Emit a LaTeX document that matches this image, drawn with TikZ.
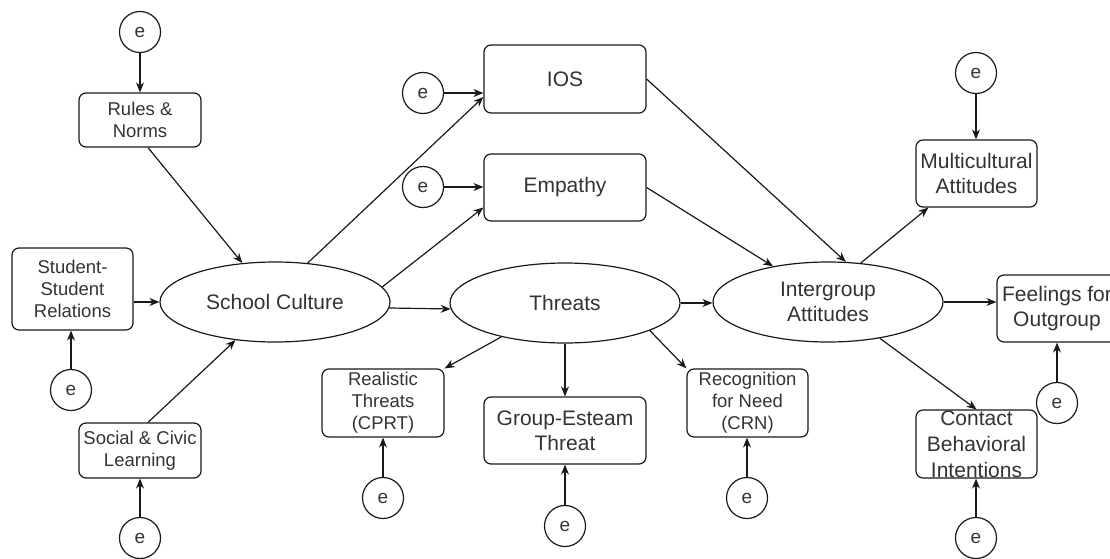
\documentclass[tikz,border=0pt]{standalone}
\usepackage{fontspec}
\setmainfont{Liberation Sans}
\usetikzlibrary{shapes.geometric,arrows.meta}
\begin{document}
\begin{tikzpicture}[x=1pt,y=-1pt,
  every node/.style={text=black!80, align=center, inner sep=0pt},
  smalltxt/.style={font=\fontsize{18.5}{22}\selectfont},
  bigtxt/.style={font=\fontsize{21}{25}\selectfont},
  box/.style={draw=black!90, rounded corners=7pt, line width=1.2pt},
  latent/.style={draw=black!90, ellipse, line width=1.2pt, minimum width=230pt,
                 minimum height=80pt, bigtxt},
  err/.style={draw=black!90, circle, line width=1.2pt, minimum size=41pt,
              font=\fontsize{19}{19}\selectfont},
  path/.style={draw=black!90, line width=1.2pt, -{Stealth[length=10pt,width=8pt]}}
]
\useasboundingbox (0,0) rectangle (1110,559);
\clip (0,0) rectangle (1110,559);

% ---- school culture indicators
\node[err] (e1) at (140,32) {e};
\node[box, smalltxt, minimum width=122pt, minimum height=54pt] (rules) at (140,120) {Rules \&\\Norms};
\node[box, smalltxt, minimum width=121pt, minimum height=82pt] (ss) at (72.5,289) {Student-\\Student\\Relations};
\node[err] (e2) at (71,390) {e};
\node[box, smalltxt, minimum width=122pt, minimum height=55pt] (social) at (140,450.5) {Social \& Civic\\Learning};
\node[err] (e3) at (140,538) {e};

% ---- latent variables
\node[latent] (sc) at (275,302) {School Culture};
\node[latent] (th) at (565,303) {Threats};
\node[latent] (int) at (828,302) {Intergroup\\Attitudes};

% ---- mediators
\node[err] (eios) at (423,93) {e};
\node[box, bigtxt, minimum width=162pt, minimum height=68pt] (ios) at (565,79) {IOS};
\node[err] (eemp) at (423,187) {e};
\node[box, bigtxt, minimum width=162pt, minimum height=67pt] (emp) at (565,187.5) {Empathy};

% ---- threat indicators
\node[box, smalltxt, minimum width=122pt, minimum height=68pt] (real) at (383,403) {Realistic\\Threats\\(CPRT)};
\node[err] (ereal) at (383,498) {e};
\node[box, bigtxt, minimum width=162pt, minimum height=67pt] (ge) at (565,430.5) {Group-Esteam\\Threat};
\node[err] (ege) at (565,526) {e};
\node[box, smalltxt, minimum width=121pt, minimum height=68pt] (rec) at (747.5,403) {Recognition\\for Need\\(CRN)};
\node[err] (erec) at (747,498) {e};

% ---- outcome indicators
\node[box, bigtxt, minimum width=121pt, minimum height=67pt] (multi) at (976.5,173.5) {Multicultural\\Attitudes};
\node[err] (emulti) at (976,73) {e};
\node[box, bigtxt, minimum width=120pt, minimum height=67pt] (feel) at (1057,308.5) {Feelings for\\Outgroup};
\node[err] (efeel) at (1057,403) {e};
\node[box, minimum width=121pt, minimum height=68pt,
      label={[font=\fontsize{21}{26}\selectfont]center:Contact\\Behavioral\\Intentions}] (contact) at (976.5,444) {};
\node[err] (econtact) at (976,538) {e};

% ---- paths
\draw[path] (e1) -- (rules);
\draw[path] ([xshift=8pt]rules.south) -- (sc.130);
\draw[path] (ss.east |- sc.west) -- (sc.west);
\draw[path] (e2) -- (e2 |- ss.south);
\draw[path] ([xshift=8pt]social.north) -- (sc.224);
\draw[path] (e3) -- (social);

\draw[path] (sc.50) -- ([yshift=-18pt]ios.west);
\draw[path] (sc.8) -- ([yshift=-20pt]emp.west);
\draw[path] (sc.-3) -- (th.183);
\draw[path] (eios) -- (eios -| ios.west);
\draw[path] (eemp) -- (eemp -| emp.west);

\draw[path] (th.east) -- (th.east -| int.west);
\draw[path] (th.208) -- (real.north east);
\draw[path] (th.south) -- (ge.north);
\draw[path] (th.342) -- (rec.north west);
\draw[path] (ereal) -- (real);
\draw[path] (ege) -- (ge);
\draw[path] (erec) -- (erec |- rec.south);

\draw[path] (ios.east) -- (int.66);
\draw[path] (emp.east) -- (int.147);
\draw[path] (int.50) -- ([xshift=13pt]multi.south west);
\draw[path] (emulti) -- (emulti |- multi.north);
\draw[path] (int.east) -- (int.east -| feel.west);
\draw[path] (efeel) -- (feel);
\draw[path] (int.325) -- (contact.north);
\draw[path] (econtact) -- (econtact |- contact.south);
\end{tikzpicture}
\end{document}
